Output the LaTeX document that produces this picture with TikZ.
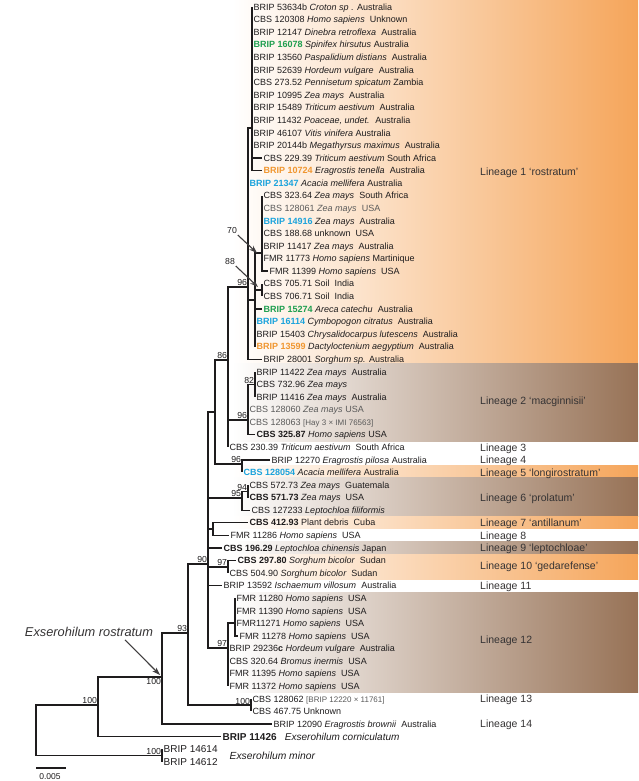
\documentclass[tikz,border=0pt]{standalone}
\usepackage{fontspec}
\setmainfont{Liberation Sans}
\usetikzlibrary{arrows.meta}
\definecolor{texte}{HTML}{1E1C1D}
\definecolor{gris}{HTML}{5A5A5A}
\definecolor{vert}{HTML}{1E9E4F}
\definecolor{bleu}{HTML}{1BA3DC}
\definecolor{orangeS}{HTML}{F0962F}
\definecolor{orangeF}{HTML}{F5A55A}
\definecolor{brunF}{HTML}{977256}
\newcommand{\hote}[1]{{\itshape #1}}
\begin{document}
\begin{tikzpicture}[x=1pt,y=-1pt]
% Styles
\tikzstyle{branche}=[draw=texte,line width=1.4pt]
\tikzstyle{fleche}=[-{Stealth[length=8pt,width=5.5pt]},draw=texte!85,line width=1.1pt]
\tikzstyle{feuille}=[anchor=west,inner sep=1.5pt,text height=7.4pt,text depth=1pt,font=\fontsize{9}{10}\selectfont,text=texte]
\tikzstyle{grande}=[feuille,text height=8.2pt,font=\fontsize{10}{12}\selectfont]
\tikzstyle{lignee}=[anchor=west,inner sep=0pt,text height=8.5pt,text depth=1pt,font=\fontsize{10.5}{12}\selectfont,text=texte!90]
\tikzstyle{soutien}=[anchor=south east,inner sep=0.8pt,font=\fontsize{8.7}{10}\selectfont,text=texte]
\tikzstyle{soutien1}=[soutien,anchor=north east]
\tikzstyle{fondO}=[left color=white,right color=orangeF]
\tikzstyle{fondB}=[left color=white,right color=brunF]
% Dimensions
\def\Haut{7}
\def\InterLignes{12.58}
\def\ColonneLignee{480}
\useasboundingbox (0,0) rectangle (638,781);
% Fonds des lignees
\shade[fondO] (232,0) rectangle (638,362);
\shade[fondB] (232,363) rectangle (638,441);
\shade[fondO] (232,465) rectangle (638,477.5);
\shade[fondB] (232,477.5) rectangle (638,516);
\shade[fondO] (232,516) rectangle (638,528.5);
\shade[fondB] (232,541) rectangle (638,554);
\shade[fondO] (232,554) rectangle (638,579);
\shade[fondB] (232,592) rectangle (638,692);
% Noeuds internes
\coordinate (R) at (36,729);
\coordinate (A) at (98,705);
\coordinate (Mi) at (162,{\Haut+(59.5)*\InterLignes});
\coordinate (Ro) at (162,677);
\coordinate (N93) at (188,633);
\coordinate (L13) at (251,{\Haut+(55.5)*\InterLignes});
\coordinate (N90) at (208,564);
\coordinate (N215) at (215,412);
\coordinate (N86) at (228,360);
\coordinate (L1) at (248,287);
\coordinate (GA) at (252,128);
\coordinate (GB) at (255,300);
\coordinate (B1) at (262,253);
\coordinate (B2) at (262,{\Haut+(22.5)*\InterLignes});
\coordinate (L2) at (248,420);
\coordinate (N82) at (255,{\Haut+(30)*\InterLignes});
\coordinate (N96) at (242,464);
\coordinate (N95) at (242,498);
\coordinate (N94) at (248,{\Haut+(38.5)*\InterLignes});
\coordinate (L7) at (213,{\Haut+(41.5)*\InterLignes});
\coordinate (L10) at (228,{\Haut+(44.5)*\InterLignes});
\coordinate (L12) at (228,648);
\coordinate (N12) at (235,623);
% Feuilles
\node[feuille] (f1) at (252,{\Haut+(0)*\InterLignes}) {BRIP 53634b \hote{Croton sp .} Australia};
\node[feuille] (f2) at (252,{\Haut+(1)*\InterLignes}) {CBS 120308 \hote{Homo sapiens}~ Unknown};
\node[feuille] (f3) at (252,{\Haut+(2)*\InterLignes}) {BRIP 12147 \hote{Dinebra retroflexa}~ Australia};
\node[feuille] (f4) at (252,{\Haut+(3)*\InterLignes}) {\textcolor{vert}{\bfseries BRIP 16078} \hote{Spinifex hirsutus} Australia};
\node[feuille] (f5) at (252,{\Haut+(4)*\InterLignes}) {BRIP 13560 \hote{Paspalidium distians}~ Australia};
\node[feuille] (f6) at (252,{\Haut+(5)*\InterLignes}) {BRIP 52639 \hote{Hordeum vulgare}~ Australia};
\node[feuille] (f7) at (252,{\Haut+(6)*\InterLignes}) {CBS 273.52 \hote{Pennisetum spicatum} Zambia};
\node[feuille] (f8) at (252,{\Haut+(7)*\InterLignes}) {BRIP 10995 \hote{Zea mays}~ Australia};
\node[feuille] (f9) at (252,{\Haut+(8)*\InterLignes}) {BRIP 15489 \hote{Triticum aestivum}~ Australia};
\node[feuille] (f10) at (252,{\Haut+(9)*\InterLignes}) {BRIP 11432 \hote{Poaceae, undet.}~ Australia};
\node[feuille] (f11) at (252,{\Haut+(10)*\InterLignes}) {BRIP 46107 \hote{Vitis vinifera} Australia};
\node[feuille] (f12) at (252,{\Haut+(11)*\InterLignes}) {BRIP 20144b \hote{Megathyrsus maximus}~ Australia};
\node[feuille] (f13) at (262,{\Haut+(12)*\InterLignes}) {CBS 229.39 \hote{Triticum aestivum} South Africa};
\node[feuille] (f14) at (262,{\Haut+(13)*\InterLignes}) {\textcolor{orangeS}{\bfseries BRIP 10724} \hote{Eragrostis tenella}~ Australia};
\node[feuille] (f15) at (248,{\Haut+(14)*\InterLignes}) {\textcolor{bleu}{\bfseries BRIP 21347} \hote{Acacia mellifera} Australia};
\node[feuille] (f16) at (262,{\Haut+(15)*\InterLignes}) {CBS 323.64 \hote{Zea mays}~ South Africa};
\node[feuille,text=gris] (f17) at (262,{\Haut+(16)*\InterLignes}) {CBS 128061 \hote{Zea mays}~ USA};
\node[feuille] (f18) at (262,{\Haut+(17)*\InterLignes}) {\textcolor{bleu}{\bfseries BRIP 14916} \hote{Zea mays}~ Australia};
\node[feuille] (f19) at (262,{\Haut+(18)*\InterLignes}) {CBS 188.68 unknown~ USA};
\node[feuille] (f20) at (262,{\Haut+(19)*\InterLignes}) {BRIP 11417 \hote{Zea mays}~ Australia};
\node[feuille] (f21) at (262,{\Haut+(20)*\InterLignes}) {FMR 11773 \hote{Homo sapiens} Martinique};
\node[feuille] (f22) at (268,{\Haut+(21)*\InterLignes}) {FMR 11399 \hote{Homo sapiens}~ USA};
\node[feuille] (f23) at (262,{\Haut+(22)*\InterLignes}) {CBS 705.71 Soil~ India};
\node[feuille] (f24) at (262,{\Haut+(23)*\InterLignes}) {CBS 706.71 Soil~ India};
\node[feuille] (f25) at (262,{\Haut+(24)*\InterLignes}) {\textcolor{vert}{\bfseries BRIP 15274} \hote{Areca catechu}~ Australia};
\node[feuille] (f26) at (255,{\Haut+(25)*\InterLignes}) {\textcolor{bleu}{\bfseries BRIP 16114} \hote{Cymbopogon citratus}~ Australia};
\node[feuille] (f27) at (255,{\Haut+(26)*\InterLignes}) {BRIP 15403 \hote{Chrysalidocarpus lutescens}~ Australia};
\node[feuille] (f28) at (255,{\Haut+(27)*\InterLignes}) {\textcolor{orangeS}{\bfseries BRIP 13599} \hote{Dactyloctenium aegyptium}~ Australia};
\node[feuille] (f29) at (262,{\Haut+(28)*\InterLignes}) {BRIP 28001 \hote{Sorghum sp.} Australia};
\node[feuille] (f30) at (255,{\Haut+(29)*\InterLignes}) {BRIP 11422 \hote{Zea mays}~ Australia};
\node[feuille] (f31) at (255,{\Haut+(30)*\InterLignes}) {CBS 732.96 \hote{Zea mays}};
\node[feuille] (f32) at (255,{\Haut+(31)*\InterLignes}) {BRIP 11416 \hote{Zea mays}~ Australia};
\node[feuille,text=gris] (f33) at (248,{\Haut+(32)*\InterLignes}) {CBS 128060 \hote{Zea mays} USA};
\node[feuille,text=gris] (f34) at (248,{\Haut+(33)*\InterLignes}) {CBS 128063 {\fontsize{8}{10}\selectfont[Hay 3 × IMI 76563]}};
\node[feuille] (f35) at (255,{\Haut+(34)*\InterLignes}) {\textbf{CBS 325.87} \hote{Homo sapiens} USA};
\node[feuille] (f36) at (228,{\Haut+(35)*\InterLignes}) {CBS 230.39 \hote{Triticum aestivum}~ South Africa};
\node[feuille] (f37) at (270,{\Haut+(36)*\InterLignes}) {BRIP 12270 \hote{Eragrostis pilosa} Australia};
\node[feuille] (f38) at (242,{\Haut+(37)*\InterLignes}) {\textcolor{bleu}{\bfseries CBS 128054} \hote{Acacia mellifera} Australia};
\node[feuille] (f39) at (248,{\Haut+(38)*\InterLignes}) {CBS 572.73 \hote{Zea mays}~ Guatemala};
\node[feuille] (f40) at (248,{\Haut+(39)*\InterLignes}) {\textbf{CBS 571.73} \hote{Zea mays}~ USA};
\node[feuille] (f41) at (250,{\Haut+(40)*\InterLignes}) {CBS 127233 \hote{Leptochloa filiformis}};
\node[feuille] (f42) at (248,{\Haut+(41)*\InterLignes}) {\textbf{CBS 412.93} Plant debris~ Cuba};
\node[feuille] (f43) at (229,{\Haut+(42)*\InterLignes}) {FMR 11286 \hote{Homo sapiens}~ USA};
\node[feuille] (f44) at (222,{\Haut+(43)*\InterLignes}) {\textbf{CBS 196.29} \hote{Leptochloa chinensis} Japan};
\node[feuille] (f45) at (236,{\Haut+(44)*\InterLignes}) {\textbf{CBS 297.80} \hote{Sorghum bicolor}~ Sudan};
\node[feuille] (f46) at (228,{\Haut+(45)*\InterLignes}) {CBS 504.90 \hote{Sorghum bicolor}~ Sudan};
\node[feuille] (f47) at (222,{\Haut+(46)*\InterLignes}) {BRIP 13592 \hote{Ischaemum villosum}~ Australia};
\node[feuille] (f48) at (235,{\Haut+(47)*\InterLignes}) {FMR 11280 \hote{Homo sapiens}~ USA};
\node[feuille] (f49) at (235,{\Haut+(48)*\InterLignes}) {FMR 11390 \hote{Homo sapiens}~ USA};
\node[feuille] (f50) at (235,{\Haut+(49)*\InterLignes}) {FMR11271 \hote{Homo sapiens}~ USA};
\node[feuille] (f51) at (238,{\Haut+(50)*\InterLignes}) {FMR 11278 \hote{Homo sapiens}~ USA};
\node[feuille] (f52) at (228,{\Haut+(51)*\InterLignes}) {BRIP 29236\textbf{c} \hote{Hordeum vulgare}~ Australia};
\node[feuille] (f53) at (228,{\Haut+(52)*\InterLignes}) {CBS 320.64 \hote{Bromus inermis}~ USA};
\node[feuille] (f54) at (228,{\Haut+(53)*\InterLignes}) {FMR 11395 \hote{Homo sapiens}~ USA};
\node[feuille] (f55) at (228,{\Haut+(54)*\InterLignes}) {FMR 11372 \hote{Homo sapiens}~ USA};
\node[feuille] (f56) at (251,{\Haut+(55)*\InterLignes}) {CBS 128062 \textcolor{gris}{\fontsize{8}{10}\selectfont[BRIP 12220 × 11761]}};
\node[feuille] (f57) at (251,{\Haut+(56)*\InterLignes}) {CBS 467.75 Unknown};
\node[feuille] (f58) at (272,{\Haut+(57)*\InterLignes}) {BRIP 12090 \hote{Eragrostis brownii}~ Australia};
\node[grande] (f59) at (221,{\Haut+(58)*\InterLignes}) {\textbf{BRIP 11426}~~ \hote{Exserohilum corniculatum}};
\node[grande] (f60) at (162,{\Haut+(59)*\InterLignes}) {BRIP 14614};
\node[grande] (f61) at (162,{\Haut+(60)*\InterLignes}) {BRIP 14612};
\node[grande,font=\fontsize{10.3}{12}\selectfont\itshape] (minor) at (228,{\Haut+(59.5)*\InterLignes}) {Exserohilum minor};
% Lignees
\node[lignee] (lig1) at (\ColonneLignee,172) {Lineage 1 ‘rostratum’};
\node[lignee] (lig2) at (\ColonneLignee,401) {Lineage 2 ‘macginnisii’};
\node[lignee] (lig3) at (\ColonneLignee,{\Haut+(35)*\InterLignes}) {Lineage 3};
\node[lignee] (lig4) at (\ColonneLignee,{\Haut+(36)*\InterLignes}) {Lineage 4};
\node[lignee] (lig5) at (\ColonneLignee,{\Haut+(37)*\InterLignes}) {Lineage 5 ‘longirostratum’};
\node[lignee] (lig6) at (\ColonneLignee,{\Haut+(39)*\InterLignes}) {Lineage 6 ‘prolatum’};
\node[lignee] (lig7) at (\ColonneLignee,{\Haut+(41)*\InterLignes}) {Lineage 7 ‘antillanum’};
\node[lignee] (lig8) at (\ColonneLignee,{\Haut+(42)*\InterLignes}) {Lineage 8};
\node[lignee] (lig9) at (\ColonneLignee,{\Haut+(43)*\InterLignes}) {Lineage 9 ‘leptochloae’};
\node[lignee] (lig10) at (\ColonneLignee,566) {Lineage 10 ‘gedarefense’};
\node[lignee] (lig11) at (\ColonneLignee,{\Haut+(46)*\InterLignes}) {Lineage 11};
\node[lignee] (lig12) at (\ColonneLignee,640) {Lineage 12};
\node[lignee] (lig13) at (\ColonneLignee,{\Haut+(55)*\InterLignes}) {Lineage 13};
\node[lignee] (lig14) at (\ColonneLignee,{\Haut+(57)*\InterLignes}) {Lineage 14};
% Branches
\draw[branche] (R) |- (A);
\draw[branche] (R) |- (Mi);
\draw[branche] (A) |- (Ro);
\draw[branche] (A) |- (f59.west);
\draw[branche] (Ro) |- (N93);
\draw[branche] (Ro) |- (f58.west);
\draw[branche] (N93) |- (N90);
\draw[branche] (N93) |- (L13);
\foreach \n in {N215,N95,L7,L10,L12} \draw[branche] (N90) |- (\n);
\draw[branche] (N90) |- (f44.west);
\draw[branche] (N90) |- (f47.west);
\draw[branche] (N215) |- (N86);
\draw[branche] (N215) |- (N96);
\draw[branche] (N86) |- (L1);
\draw[branche] (N86) |- (L2);
\draw[branche] (N86) |- (f36.west);
\draw[branche] (L1) |- (GA);
\draw[branche] (L1) |- (GB);
\draw[branche] (L1) |- (f15.west);
\draw[branche] (L1) |- (f29.west);
\foreach \i in {1,...,14} \draw[branche] (GA) |- (f\i.west);
\draw[branche] (GB) |- (B1);
\draw[branche] (GB) |- (B2);
\foreach \i in {25,...,28} \draw[branche] (GB) |- (f\i.west);
\foreach \i in {16,...,22} \draw[branche] (B1) |- (f\i.west);
\foreach \i in {23,24} \draw[branche] (B2) |- (f\i.west);
\draw[branche] (L2) |- (N82);
\foreach \i in {33,34,35} \draw[branche] (L2) |- (f\i.west);
\foreach \i in {30,31,32} \draw[branche] (N82) |- (f\i.west);
\foreach \i in {37,38} \draw[branche] (N96) |- (f\i.west);
\draw[branche] (N95) |- (N94);
\draw[branche] (N95) |- (f41.west);
\foreach \i in {39,40} \draw[branche] (N94) |- (f\i.west);
\foreach \i in {42,43} \draw[branche] (L7) |- (f\i.west);
\foreach \i in {45,46} \draw[branche] (L10) |- (f\i.west);
\draw[branche] (L12) |- (N12);
\foreach \i in {52,...,55} \draw[branche] (L12) |- (f\i.west);
\foreach \i in {48,...,51} \draw[branche] (N12) |- (f\i.west);
\foreach \i in {56,57} \draw[branche] (L13) |- (f\i.west);
\foreach \i in {60,61} \draw[branche] (Mi) |- (f\i.west);
% Soutiens
\node[soutien] (sA) at (A) {100};
\node[soutien1] (sRo) at (Ro) {100};
\node[soutien] (sMi) at (Mi) {100};
\node[soutien] (s93) at (N93) {93};
\node[soutien] (s90) at (N90) {90};
\node[soutien] (sL13) at (L13) {100};
\node[soutien] (sL12) at (L12) {97};
\node[soutien] (sL10) at (L10) {97};
\node[soutien] (s95) at (N95) {95};
\node[soutien] (s94) at (N94) {94};
\node[soutien] (s96b) at (N96) {96};
\node[soutien] (s86) at (N86) {86};
\node[soutien] (sL2) at (L2) {96};
\node[soutien] (s82) at (N82) {82};
\node[soutien] (sL1) at (L1) {96};
\node[soutien,anchor=center] (s70) at (232,231) {70};
\node[soutien,anchor=center] (s88) at (230,262) {88};
\coordinate (p70) at (257,253);
\coordinate (p88) at (258,287);
\draw[fleche] (s70.south east) -- (p70);
\draw[fleche] (s88.south east) -- (p88);
% Espece
\node[font=\fontsize{12.8}{14}\selectfont\itshape,text=texte!90,inner sep=0pt] (rostr) at (89,632) {Exserohilum rostratum};
\draw[fleche] ([xshift=36pt,yshift=-3pt]rostr.south) -- ([xshift=-2pt,yshift=2pt]Ro);
% Echelle
\coordinate (e0) at (36,768);
\coordinate (e1) at (66,768);
\draw[branche] (e0) -- (e1);
\node[font=\fontsize{8.5}{10}\selectfont,text=texte,inner sep=0pt] (ech) at (50,777) {0.005};
\end{tikzpicture}
\end{document}
